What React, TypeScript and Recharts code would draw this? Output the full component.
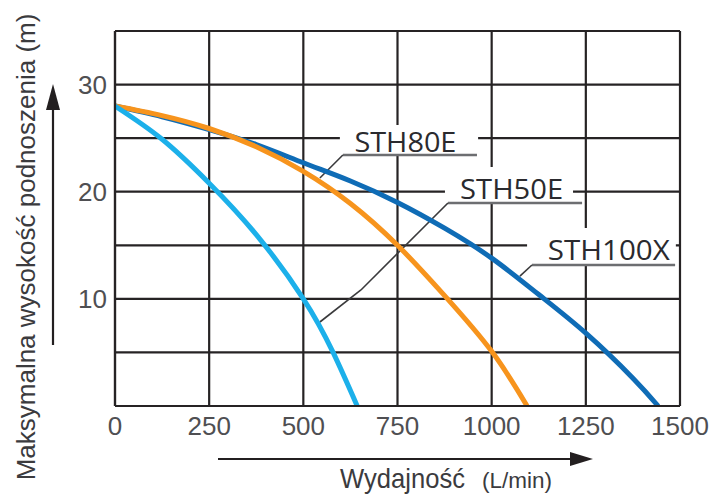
import React from 'react';
import {
  LineChart,
  Line,
  XAxis,
  YAxis,
  CartesianGrid,
  ReferenceArea,
  ReferenceLine,
  ReferenceDot,
} from 'recharts';

// ---- axis ticks ----
const flowTicks = [0, 250, 500, 750, 1000, 1250, 1500];
const headTicks = [0, 5, 10, 15, 20, 25, 30, 35];
const headLabelled = [10, 20, 30];

// ---- series (flow L/min -> head m) ----
const sth50eFlow = [0, 125, 250, 375, 500, 579, 643];
const sth50eHead = [28, 24.9, 20.8, 16.0, 10, 5, 0];

const sth80eFlow = [0, 125, 250, 375, 500, 625, 750, 875, 1000, 1094];
const sth80eHead = [28, 27.1, 25.9, 24.2, 21.9, 18.9, 15.0, 10.3, 5.1, 0];

const sth100xFlow = [0, 125, 250, 375, 500, 625, 750, 875, 1000, 1125, 1250, 1375, 1442];
const sth100xHead = [28, 27.0, 25.8, 24.4, 22.7, 21.0, 19.0, 16.6, 13.8, 10.4, 6.8, 2.6, 0];

// ---- series names ----
const seriesNames = ['STH80E', 'STH50E', 'STH100X'];

const toPoints = (q: number[], h: number[]) => q.map((v, i) => ({ q: v, h: h[i] }));

const data50 = toPoints(sth50eFlow, sth50eHead);
const data80 = toPoints(sth80eFlow, sth80eHead);
const data100 = toPoints(sth100xFlow, sth100xHead);

// annotation geometry in data units (label centre, white box, underline, leader)
const annotations = [
  {
    name: seriesNames[0],
    cx: 771, cy: 24.73, len: 102,
    box: [597, 964, 23.43, 26.23],
    underline: [605, 961, 23.43],
    leader: [[605, 23.43], [544, 21.28]],
  },
  {
    name: seriesNames[1],
    cx: 1053, cy: 20.35, len: 103,
    box: [876, 1216, 18.95, 22.31],
    underline: [884, 1240, 18.95],
    leader: [[884, 18.95], [653, 10.83], [544, 7.84]],
  },
  {
    name: seriesNames[2],
    cx: 1311, cy: 14.7, len: 122,
    box: [1094, 1489, 13.16, 16.61],
    underline: [1107, 1487, 13.16],
    leader: [[1107, 13.16], [1075, 12.13]],
  },
];

const GRID = '#262324';
const TICK_FONT = '"Liberation Sans", Arial, sans-serif';

const makeLabel = (text: string, len: number) => (props: any) => {
  const vb = props.viewBox || {};
  const cx = vb.cx !== undefined ? vb.cx : vb.x + (vb.width || 0) / 2;
  const cy = vb.cy !== undefined ? vb.cy : vb.y + (vb.height || 0) / 2;
  return (
    <text
      x={cx}
      y={cy}
      textAnchor="middle"
      dominantBaseline="central"
      fontFamily='"Open Sans", "Noto Sans", sans-serif'
      fontSize={28}
      fill="#2a2a2e"
      textLength={len}
      lengthAdjust="spacingAndGlyphs"
    >
      {text}
    </text>
  );
};

export default function App() {
  return (
    <div style={{ position: 'absolute', left: 0, top: 0, width: 716, height: 497, background: '#fff' }}>
      <LineChart
        width={716}
        height={497}
        margin={{ top: 31, right: 36, bottom: 61, left: 0 }}
      >
        <CartesianGrid stroke={GRID} strokeWidth={2.2} />
        <XAxis
          type="number"
          dataKey="q"
          domain={[0, 1500]}
          ticks={flowTicks}
          allowDataOverflow
          height={30}
          tickSize={0}
          tickMargin={11}
          axisLine={{ stroke: GRID, strokeWidth: 2.2 }}
          tickLine={false}
          tick={{ fontSize: 26, fill: '#4f4f52', fontFamily: TICK_FONT }}
          interval={0}
        />
        <YAxis
          type="number"
          dataKey="h"
          domain={[0, 35]}
          ticks={headTicks}
          allowDataOverflow
          width={115}
          tickSize={0}
          tickMargin={8}
          axisLine={{ stroke: GRID, strokeWidth: 2.2 }}
          tickLine={false}
          interval={0}
          tick={{ fontSize: 26, fill: '#4f4f52', fontFamily: TICK_FONT }}
          tickFormatter={(v: number) => (headLabelled.includes(v) ? String(v) : '')}
        />

        {annotations.map((a) => (
          <ReferenceArea
            key={'box' + a.name}
            x1={a.box[0]}
            x2={a.box[1]}
            y1={a.box[2]}
            y2={a.box[3]}
            fill="#ffffff"
            fillOpacity={1}
            stroke="none"
          />
        ))}
        {annotations.map((a) => (
          <ReferenceLine
            key={'ul' + a.name}
            segment={[
              { x: a.underline[0], y: a.underline[2] },
              { x: a.underline[1], y: a.underline[2] },
            ]}
            stroke="#6d6e71"
            strokeWidth={2.6}
          />
        ))}
        {annotations.flatMap((a) =>
          a.leader.slice(1).map((p, i) => (
            <ReferenceLine
              key={'ld' + a.name + i}
              segment={[
                { x: a.leader[i][0], y: a.leader[i][1] },
                { x: p[0], y: p[1] },
              ]}
              stroke="#3a3a3c"
              strokeWidth={1.6}
            />
          ))
        )}

        <Line
          data={data100}
          dataKey="h"
          type="natural"
          stroke="#0f6cb6"
          strokeWidth={5}
          dot={false}
          activeDot={false}
          isAnimationActive={false}
        />
        <Line
          data={data80}
          dataKey="h"
          type="natural"
          stroke="#f7941d"
          strokeWidth={5}
          dot={false}
          activeDot={false}
          isAnimationActive={false}
        />
        <Line
          data={data50}
          dataKey="h"
          type="natural"
          stroke="#1cb0ea"
          strokeWidth={5}
          dot={false}
          activeDot={false}
          isAnimationActive={false}
        />

        {annotations.map((a) => (
          <ReferenceDot
            key={'lb' + a.name}
            x={a.cx}
            y={a.cy}
            r={0}
            fill="none"
            stroke="none"
            label={makeLabel(a.name, a.len)}
          />
        ))}
      </LineChart>

      <svg
        width={716}
        height={497}
        style={{ position: 'absolute', left: 0, top: 0, pointerEvents: 'none' }}
      >
        {/* y axis arrow */}
        <line x1={53} y1={345} x2={53} y2={106} stroke="#231f20" strokeWidth={2.2} />
        <polygon points="46,110 53,84 60,110" fill="#231f20" />
        <text
          transform="translate(35,247) rotate(-90)"
          x={0}
          y={0}
          textAnchor="middle"
          fontFamily={TICK_FONT}
          fontSize={26}
          fill="#3b3b3e"
        >
          Maksymalna wysokość podnoszenia (m)
        </text>

        {/* x axis arrow */}
        <line x1={218} y1={459} x2={574} y2={459} stroke="#231f20" strokeWidth={2.2} />
        <polygon points="570,452 593,459 570,466" fill="#231f20" />
        <text
          x={340}
          y={488}
          fontFamily={TICK_FONT}
          fontSize={28}
          fill="#3b3b3e"
          textLength={125}
          lengthAdjust="spacingAndGlyphs"
        >
          Wydajność
        </text>
        <text
          x={482}
          y={488}
          fontFamily={TICK_FONT}
          fontSize={22}
          fill="#3b3b3e"
          textLength={70}
          lengthAdjust="spacingAndGlyphs"
        >
          (L/min)
        </text>
      </svg>
    </div>
  );
}
